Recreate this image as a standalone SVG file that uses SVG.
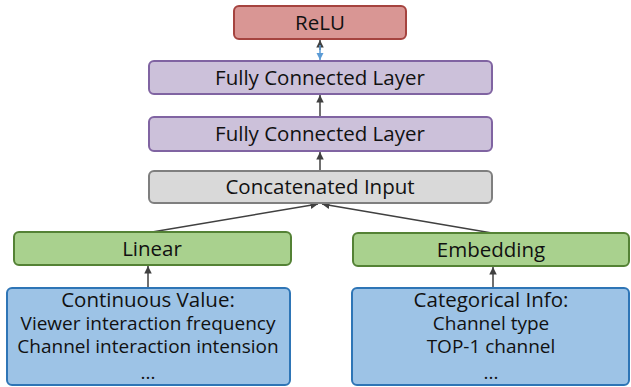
<svg xmlns="http://www.w3.org/2000/svg" width="631" height="387" viewBox="0 0 631 387">
<defs>
<style>
.t{font-family:"Open Sans","Noto Sans","DejaVu Sans",sans-serif;font-size:20.5px;fill:#111;text-anchor:middle}
.s{font-size:19px}
.relu{fill:#d99694;stroke:#a5433f;stroke-width:2}
.fc{fill:#ccc1da;stroke:#8064a2;stroke-width:2}
.cat{fill:#d9d9d9;stroke:#7f7f7f;stroke-width:2}
.gr{fill:#a9d18e;stroke:#548235;stroke-width:2}
.bl{fill:#9dc3e6;stroke:#2e75b6;stroke-width:2}
.c{stroke:#404040;stroke-width:1.5;fill:none}
</style>
<marker id="a" viewBox="0 0 10 10" refX="10" refY="5" markerWidth="5" markerHeight="5" orient="auto"><path d="M0,0L10,5L0,10z" fill="#404040"/></marker>
<marker id="b" viewBox="0 0 10 10" refX="10" refY="5" markerWidth="5" markerHeight="5" orient="auto"><path d="M0,0L10,5L0,10z" fill="#5b9bd5"/></marker>
</defs>
<g id="connectors">
<line class="c" x1="320" y1="50" x2="320" y2="40" marker-end="url(#a)"/>
<line x1="320" y1="45" x2="320" y2="60" stroke="#5b9bd5" stroke-width="1.5" marker-end="url(#b)"/>
<line class="c" x1="320" y1="117" x2="320" y2="95" marker-end="url(#a)"/>
<line class="c" x1="320" y1="171" x2="320" y2="152" marker-end="url(#a)"/>
<line class="c" x1="152" y1="232" x2="318" y2="204" marker-end="url(#a)"/>
<line class="c" x1="492" y1="233" x2="322" y2="204" marker-end="url(#a)"/>
<line class="c" x1="148" y1="288" x2="148" y2="266" marker-end="url(#a)"/>
<line class="c" x1="493" y1="288" x2="493" y2="267" marker-end="url(#a)"/>
</g>
<g id="relu"><rect class="relu" x="234" y="6" width="172" height="33" rx="5"/><text class="t" x="320" y="30">ReLU</text></g>
<g id="fc1"><rect class="fc" x="149" y="61" width="343" height="33" rx="5"/><text class="t" x="320" y="85">Fully Connected Layer</text></g>
<g id="fc2"><rect class="fc" x="149" y="117" width="343" height="34" rx="5"/><text class="t" x="320" y="141">Fully Connected Layer</text></g>
<g id="concat"><rect class="cat" x="149" y="171" width="343" height="32" rx="5"/><text class="t" x="320" y="194">Concatenated Input</text></g>
<g id="linear"><rect class="gr" x="14" y="232" width="277" height="33" rx="5"/><text class="t" x="152" y="256">Linear</text></g>
<g id="embedding"><rect class="gr" x="353" y="233" width="276" height="33" rx="5"/><text class="t" x="491" y="257">Embedding</text></g>
<g id="continuous"><rect class="bl" x="7" y="288" width="283" height="97" rx="5"/>
<text class="t" x="148" y="307">Continuous Value:</text>
<text class="t s" x="148" y="330">Viewer interaction frequency</text>
<text class="t s" x="148" y="353">Channel interaction intension</text>
<text class="t s" x="148" y="379">...</text></g>
<g id="categorical"><rect class="bl" x="352" y="288" width="277" height="97" rx="5"/>
<text class="t" x="491" y="307">Categorical Info:</text>
<text class="t s" x="491" y="330">Channel type</text>
<text class="t s" x="491" y="353">TOP-1 channel</text>
<text class="t s" x="491" y="379">...</text></g>
</svg>
